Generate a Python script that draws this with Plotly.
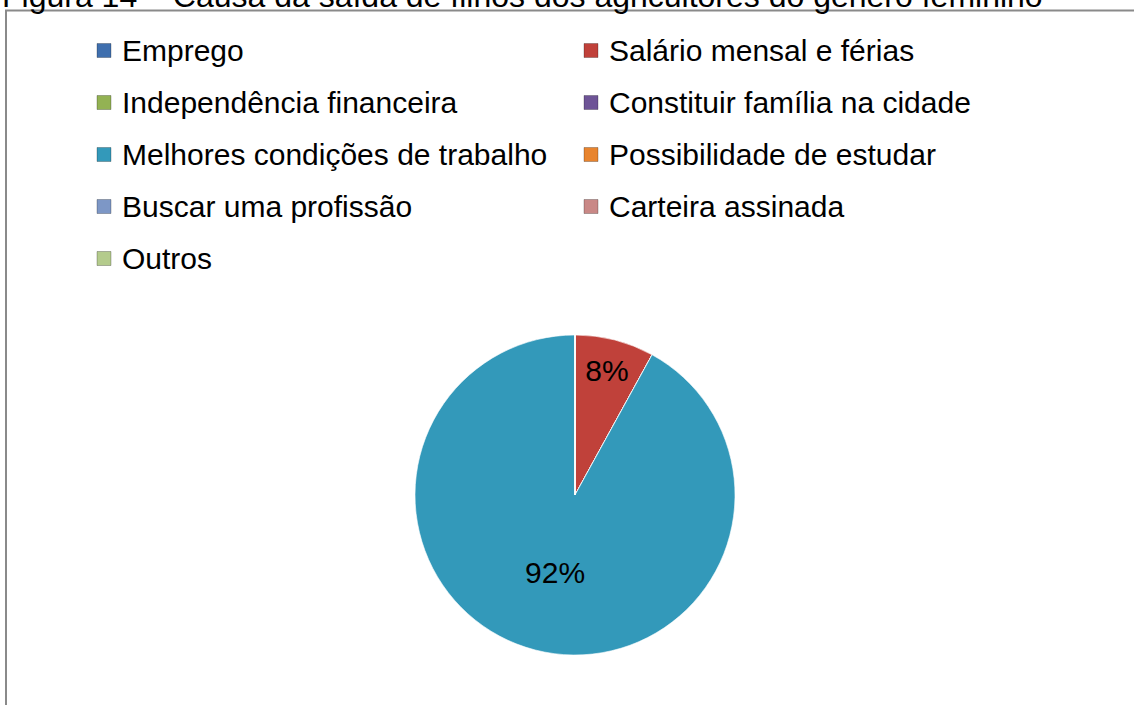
import plotly.graph_objects as go

categories = [
    "Emprego",
    "Salário mensal e férias",
    "Independência financeira",
    "Constituir família na cidade",
    "Melhores condições de trabalho",
    "Possibilidade de estudar",
    "Buscar uma profissão",
    "Carteira assinada",
    "Outros",
]
values = [0, 8, 0, 0, 92, 0, 0, 0, 0]
colors = ["#3F6FAE", "#C0413A", "#93B253", "#6E5496", "#3399BA",
          "#E8842E", "#7D97C6", "#C98886", "#B4CB8C"]
title_text = "Figura 14 – Causa da saída de filhos dos agricultores do gênero feminino"

W, H = 1134, 705
FONT = "Liberation Sans, Arial, sans-serif"

total = sum(values)
labels_text = ["" if v == 0 else f"{round(100 * v / total)}%" for v in values]

fig = go.Figure(go.Pie(
    labels=categories,
    values=values,
    text=labels_text,
    textinfo="text",
    textposition="inside",
    insidetextorientation="horizontal",
    sort=False,
    direction="clockwise",
    rotation=0,
    showlegend=False,
    marker=dict(colors=colors, line=dict(color="rgba(255,255,255,0.6)", width=1)),
    textfont=dict(family=FONT, size=30, color="black"),
    domain=dict(x=[415 / W, 735 / W], y=[1 - 655 / H, 1 - 335 / H]),
    hoverinfo="label+percent",
))

# Two-column legend (row-major), built from the category / colour lists
col_x = [97, 584]      # left edge of the legend squares (px)
row_y0, row_dy = 50.5, 52
sq = 14
shapes = []
annotations = []
for i, (name, col) in enumerate(zip(categories, colors)):
    r, c = divmod(i, 2)
    x0 = col_x[c]
    yc = row_y0 + r * row_dy
    shapes.append(dict(
        type="rect", xref="paper", yref="paper",
        x0=x0 / W, x1=(x0 + sq) / W,
        y0=1 - (yc + sq / 2) / H, y1=1 - (yc - sq / 2) / H,
        fillcolor=col, line=dict(color="rgba(0,0,0,0.25)", width=1),
    ))
    annotations.append(dict(
        text=name, xref="paper", yref="paper",
        x=(x0 + sq + 9) / W, xanchor="left",
        y=1 - yc / H, yanchor="middle",
        showarrow=False,
        font=dict(family=FONT, size=30, color="black"),
    ))

# frame of the chart area (runs off the right and bottom edges)
shapes.append(dict(
    type="rect", xref="paper", yref="paper",
    x0=6 / W, x1=1.01, y0=-0.01, y1=1 - 10.5 / H,
    line=dict(color="#8a8a8a", width=2),
    layer="above",
))

# figure caption, cut by the top edge
annotations.append(dict(
    text=title_text, xref="paper", yref="paper",
    x=0, xanchor="left", y=1 + 4.5 / H, yanchor="middle",
    showarrow=False,
    font=dict(family=FONT, size=32, color="black"),
))

fig.update_layout(
    width=W, height=H,
    margin=dict(l=0, r=0, t=0, b=0),
    paper_bgcolor="white",
    plot_bgcolor="white",
    font=dict(family=FONT, size=30, color="black"),
    showlegend=False,
    shapes=shapes,
    annotations=annotations,
)

fig.write_html(
    "out.html",
    config={"displayModeBar": False},
    post_script="document.body.style.margin='0';document.body.style.overflow='hidden';",
)
